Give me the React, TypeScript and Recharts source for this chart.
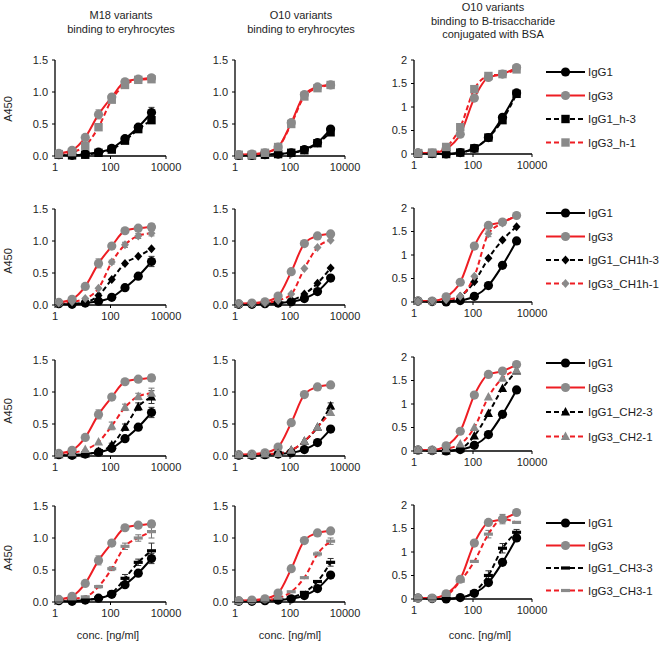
import React from "react";
import { LineChart, Line, XAxis, YAxis, ErrorBar } from "recharts";

// 3-fold dilution series, ng/ml
const conc = [1.37, 4.12, 12.3, 37, 111, 333, 1000, 3000];
const xTicks = [1, 100, 10000];
const yTicksLow = [0, 0.5, 1, 1.5];
const yTicksHigh = [0, 0.5, 1, 1.5, 2];

const colTitles = [
  ["M18 variants", "binding to eryhrocytes"],
  ["O10 variants", "binding to eryhrocytes"],
  ["O10 variants", "binding to B-trisaccharide", "conjugated with BSA"],
];

const variantLabels = [
  ["IgG1_h-3", "IgG3_h-1"],
  ["IgG1_CH1h-3", "IgG3_CH1h-1"],
  ["IgG1_CH2-3", "IgG3_CH2-1"],
  ["IgG1_CH3-3", "IgG3_CH3-1"],
];
const variantMarkers = ["square", "diamond", "triangle", "dash"];

// M18, erythrocytes
const m18IgG1 = [0.02, 0.01, 0.03, 0.06, 0.12, 0.27, 0.45, 0.68];
const m18IgG3 = [0.04, 0.09, 0.29, 0.65, 0.92, 1.16, 1.2, 1.22];
const m18H3 = [0.02, 0.01, 0.02, 0.05, 0.1, 0.24, 0.42, 0.56];
const m18H1 = [0.03, 0.06, 0.16, 0.45, 0.88, 1.11, 1.19, 1.2];
const m18Ch1h3 = [0.02, 0.02, 0.04, 0.15, 0.4, 0.65, 0.76, 0.88];
const m18Ch1h1 = [0.03, 0.05, 0.1, 0.26, 0.67, 0.94, 1.08, 1.12];
const m18Ch23 = [0.02, 0.02, 0.03, 0.07, 0.17, 0.45, 0.77, 0.92];
const m18Ch21 = [0.03, 0.05, 0.1, 0.22, 0.47, 0.76, 0.93, 0.98];
const m18Ch33 = [0.02, 0.02, 0.03, 0.06, 0.14, 0.37, 0.62, 0.8];
const m18Ch31 = [0.03, 0.05, 0.08, 0.24, 0.52, 0.87, 1.0, 1.1];

// O10, erythrocytes
const o10IgG1 = [0.01, 0.01, 0.02, 0.03, 0.05, 0.1, 0.21, 0.42];
const o10IgG3 = [0.02, 0.03, 0.05, 0.14, 0.52, 0.96, 1.08, 1.11];
const o10H3 = [0.01, 0.01, 0.02, 0.03, 0.05, 0.09, 0.2, 0.37];
const o10H1 = [0.02, 0.02, 0.05, 0.14, 0.5, 0.93, 1.06, 1.11];
const o10Ch1h3 = [0.01, 0.01, 0.02, 0.03, 0.07, 0.17, 0.34, 0.58];
const o10Ch1h1 = [0.02, 0.02, 0.03, 0.07, 0.17, 0.57, 0.9, 1.01];
const o10Ch23 = [0.01, 0.01, 0.02, 0.04, 0.09, 0.23, 0.45, 0.78];
const o10Ch21 = [0.02, 0.02, 0.03, 0.04, 0.09, 0.23, 0.45, 0.68];
const o10Ch33 = [0.01, 0.01, 0.02, 0.03, 0.07, 0.15, 0.32, 0.62];
const o10Ch31 = [0.02, 0.02, 0.03, 0.06, 0.16, 0.38, 0.75, 0.95];

// O10, B-trisaccharide-BSA
const bsaIgG1 = [0.02, 0.01, 0.0, 0.03, 0.12, 0.35, 0.78, 1.3];
const bsaIgG3 = [0.02, 0.02, 0.11, 0.42, 1.19, 1.63, 1.7, 1.84];
const bsaH3 = [0.01, 0.01, 0.0, 0.03, 0.12, 0.35, 0.72, 1.28];
const bsaH1 = [0.02, 0.03, 0.15, 0.57, 1.38, 1.66, 1.7, 1.8];
const bsaCh1h3 = [0.01, 0.01, 0.01, 0.12, 0.43, 0.93, 1.32, 1.6];
const bsaCh1h1 = [0.01, 0.02, 0.05, 0.12, 0.55, 1.45, 1.68, 1.84];
const bsaCh23 = [0.01, 0.01, 0.0, 0.05, 0.32, 0.8, 1.33, 1.7];
const bsaCh21 = [0.02, 0.02, 0.05, 0.15, 0.5, 1.15, 1.55, 1.72];
const bsaCh33 = [0.01, 0.01, 0.01, 0.03, 0.15, 0.5, 1.08, 1.42];
const bsaCh31 = [0.02, 0.02, 0.08, 0.38, 0.8, 1.38, 1.7, 1.63];

// standard deviations (0 = no visible bar)
const m18IgG1Err = [0, 0, 0, 0, 0, 0, 0.03, 0.08];
const m18IgG3Err = [0, 0, 0, 0.07, 0, 0, 0, 0.05];
const m18H1Err = [0, 0, 0, 0, 0, 0, 0, 0.04];
const m18Ch1h1Err = [0, 0, 0, 0, 0.03, 0.04, 0.04, 0.04];
const m18Ch21Err = [0, 0, 0, 0, 0.06, 0.05, 0.05, 0.08];
const m18Ch23Err = [0, 0, 0, 0, 0.03, 0.05, 0.06, 0.1];
const m18Ch31Err = [0, 0, 0, 0.02, 0.03, 0.05, 0.05, 0.1];
const m18Ch33Err = [0, 0, 0, 0, 0.04, 0.06, 0.05, 0.12];
const o10Ch23Err = [0, 0, 0, 0, 0, 0, 0, 0.05];
const o10Ch31Err = [0, 0, 0, 0, 0, 0, 0.03, 0.05];
const o10Ch33Err = [0, 0, 0, 0, 0, 0, 0, 0.06];
const bsaCh1h1Err = [0, 0, 0, 0, 0, 0.06, 0, 0];
const bsaCh31Err = [0, 0, 0, 0, 0, 0.08, 0.1, 0];
const bsaCh33Err = [0, 0, 0, 0, 0, 0.1, 0.1, 0.06];

const controls = [
  [m18IgG1, m18IgG3],
  [o10IgG1, o10IgG3],
  [bsaIgG1, bsaIgG3],
];
const controlErrs = [[m18IgG1Err, m18IgG3Err], [null, null], [null, null]];

const variants = [
  [[m18H3, m18H1], [o10H3, o10H1], [bsaH3, bsaH1]],
  [[m18Ch1h3, m18Ch1h1], [o10Ch1h3, o10Ch1h1], [bsaCh1h3, bsaCh1h1]],
  [[m18Ch23, m18Ch21], [o10Ch23, o10Ch21], [bsaCh23, bsaCh21]],
  [[m18Ch33, m18Ch31], [o10Ch33, o10Ch31], [bsaCh33, bsaCh31]],
];
const variantErrs = [
  [[null, m18H1Err], [null, null], [null, null]],
  [[null, m18Ch1h1Err], [null, null], [null, bsaCh1h1Err]],
  [[m18Ch23Err, m18Ch21Err], [o10Ch23Err, null], [null, null]],
  [[m18Ch33Err, m18Ch31Err], [o10Ch33Err, o10Ch31Err], [bsaCh33Err, bsaCh31Err]],
];

const FONT = '"Liberation Sans", Arial, sans-serif';
const RED = "#ee1d23";
const GREY = "#8a8a8a";
const TEXT = "#1e1e1e";

// plot-area boxes
const colLeft = [55, 235, 414];
const colWidth = [111, 110, 118];
const rowTop = [60, 209, 360, 506];
const rowTop3 = [60, 208, 357, 505];
const Y_W = 34;
const M_TOP = 6;
const M_RIGHT = 22;
const X_H = 24;

function Marker({ cx, cy, shape, fill }: { cx: number; cy: number; shape: string; fill: string }) {
  if (cx == null || cy == null) return null;
  if (shape === "square") return <rect x={cx - 4.2} y={cy - 4.2} width={8.4} height={8.4} fill={fill} />;
  if (shape === "diamond")
    return <polygon points={`${cx},${cy - 4.5} ${cx + 4},${cy} ${cx},${cy + 4.5} ${cx - 4},${cy}`} fill={fill} />;
  if (shape === "triangle")
    return <polygon points={`${cx},${cy - 5} ${cx + 4.6},${cy + 3.5} ${cx - 4.6},${cy + 3.5}`} fill={fill} />;
  if (shape === "dash") return <rect x={cx - 4.5} y={cy - 1.6} width={9} height={3.2} fill={fill} />;
  return <circle cx={cx} cy={cy} r={4.6} fill={fill} />;
}

const seriesStyle = [
  { stroke: "#000", fill: "#000", dash: undefined },
  { stroke: RED, fill: GREY, dash: undefined },
  { stroke: "#000", fill: "#000", dash: "5 3" },
  { stroke: RED, fill: GREY, dash: "5 3" },
];

function Panel({ row, col }: { row: number; col: number }) {
  const series = [...controls[col], ...variants[row][col]];
  const errs = [...controlErrs[col], ...variantErrs[row][col]];
  const data = conc.map((x, i) => {
    const d: any = { x };
    series.forEach((s, k) => {
      d["s" + k] = s[i];
      d["e" + k] = errs[k] ? errs[k]![i] : 0;
    });
    return d;
  });
  const high = col === 2;
  const top = high ? rowTop3[row] : rowTop[row];
  const plotH = high ? 94 : 96;
  const w = Y_W + colWidth[col] + M_RIGHT;
  const h = M_TOP + plotH + X_H;
  const shapes = ["circle", "circle", variantMarkers[row], variantMarkers[row]];
  return (
    <div style={{ position: "absolute", left: colLeft[col] - Y_W, top: top - M_TOP }}>
      <LineChart width={w} height={h} data={data} margin={{ top: M_TOP, right: M_RIGHT, left: 0, bottom: 0 }}>
        <XAxis
          dataKey="x"
          type="number"
          scale="log"
          domain={[1, 10000]}
          ticks={xTicks}
          allowDataOverflow
          height={X_H}
          axisLine={{ stroke: "#000", strokeWidth: 1.3 }}
          tickLine={{ stroke: "#000" }}
          tickSize={3}
          tickMargin={4}
          tick={{ fontSize: 11, fill: TEXT, fontFamily: FONT }}
        />
        <YAxis
          type="number"
          domain={high ? [0, 2] : [0, 1.5]}
          ticks={high ? yTicksHigh : yTicksLow}
          width={Y_W}
          interval={0}
          axisLine={{ stroke: "#000", strokeWidth: 1.3 }}
          tickLine={{ stroke: "#000" }}
          tickSize={3}
          tickMargin={4}
          tickFormatter={(v: number) => (high ? String(v) : v.toFixed(1))}
          tick={{ fontSize: 11, fill: TEXT, fontFamily: FONT }}
        />
        {series.map((_, k) => (
          <Line
            key={k}
            dataKey={"s" + k}
            type="monotone"
            stroke={seriesStyle[k].stroke}
            strokeWidth={2}
            strokeDasharray={seriesStyle[k].dash}
            isAnimationActive={false}
            dot={(p: any) => (
              <Marker key={"d" + k + "-" + p.index} cx={p.cx} cy={p.cy} shape={shapes[k]} fill={seriesStyle[k].fill} />
            )}
            activeDot={false}
          >
            {errs[k] ? (
              <ErrorBar dataKey={"e" + k} direction="y" width={3} strokeWidth={1} stroke={k % 2 ? "#777" : "#333"} />
            ) : null}
          </Line>
        ))}
      </LineChart>
    </div>
  );
}

const legendTop = [72, 213, 363, 523];
const legendGap = [23.5, 23.5, 24.5, 22.5];
const titleX = [121, 301, 493];
const concX = [108, 290, 480];
const a450Y = [109, 261, 411, 558];

function Overlay() {
  return (
    <svg width={661} height={647} style={{ position: "absolute", left: 0, top: 0 }} fontFamily={FONT}>
      {colTitles.map((lines, c) =>
        lines.map((t, i) => (
          <text
            key={c + "-" + i}
            x={titleX[c]}
            y={(c === 2 ? 11 : 19) + i * 13.5}
            textAnchor="middle"
            fontSize={11}
            fill={TEXT}
          >
            {t}
          </text>
        ))
      )}
      {a450Y.map((y, r) => (
        <text key={"a" + r} x={0} y={0} transform={`translate(12 ${y}) rotate(-90)`} textAnchor="middle" fontSize={11} fill={TEXT}>
          A450
        </text>
      ))}
      {concX.map((x, c) => (
        <text key={"c" + c} x={x} y={639} textAnchor="middle" fontSize={11} fill={TEXT}>
          conc. [ng/ml]
        </text>
      ))}
      {variantLabels.map((names, r) => {
        const labels = ["IgG1", "IgG3", ...names];
        const shapes = ["circle", "circle", variantMarkers[r], variantMarkers[r]];
        return labels.map((lab, k) => {
          const y = legendTop[r] + k * legendGap[r];
          const st = seriesStyle[k];
          return (
            <g key={"l" + r + "-" + k}>
              <line x1={546} x2={585} y1={y} y2={y} stroke={st.stroke} strokeWidth={2} strokeDasharray={st.dash} />
              <Marker cx={565.5} cy={y} shape={shapes[k]} fill={st.fill} />
              <text x={588} y={y + 4} fontSize={11.5} fill={TEXT}>
                {lab}
              </text>
            </g>
          );
        });
      })}
    </svg>
  );
}

export default function App() {
  return (
    <div style={{ position: "relative", width: 661, height: 647, background: "#fff", fontFamily: FONT }}>
      <style>{`body{margin:0}`}</style>
      <Overlay />
      {[0, 1, 2, 3].map((r) => [0, 1, 2].map((c) => <Panel key={r + "-" + c} row={r} col={c} />))}
    </div>
  );
}
